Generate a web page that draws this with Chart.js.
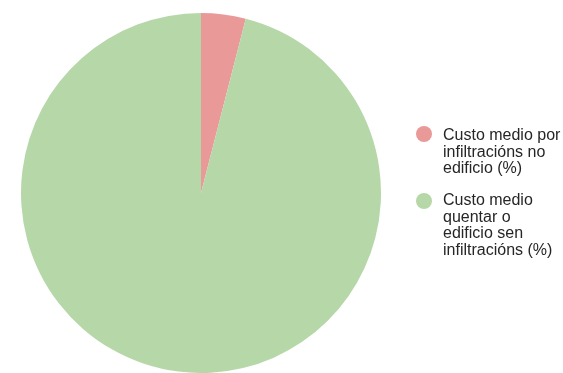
<!DOCTYPE html>
<html>
<head>
<meta charset="utf-8">
<script src="https://cdn.jsdelivr.net/npm/chart.js@4/dist/chart.umd.min.js"></script>
<style>
  html, body { margin: 0; padding: 0; background: #fff; overflow: hidden; }
  #wrap { position: relative; width: 563px; height: 373px; }
  #c { position: absolute; left: 0; top: 0; }
  .lg { position: absolute; left: 416px; font-family: "Liberation Sans", Arial, sans-serif; font-size: 16px; line-height: 16.6px; color: #262626; }
  .lg .dot { position: absolute; left: 0; width: 16px; height: 16px; border-radius: 50%; }
  .lg .txt { position: absolute; left: 27px; white-space: nowrap; }
</style>
</head>
<body>
<div id="wrap">
  <canvas id="c" width="563" height="373"></canvas>
</div>
<script>
const categories = [
  ["Custo medio por", "infiltracións no", "edificio (%)"],
  ["Custo medio", "quentar o", "edificio sen", "infiltracións (%)"]
];
const values = [4, 96];
const colors = ["#ea9999", "#b6d7a8"];

const ctx = document.getElementById('c').getContext('2d');
new Chart(ctx, {
  type: 'pie',
  data: {
    labels: categories.map(l => l.join(' ')),
    datasets: [{
      data: values,
      backgroundColor: colors,
      borderWidth: 0
    }]
  },
  options: {
    responsive: false,
    animation: false,
    layout: { padding: { left: 21, top: 13, right: 182, bottom: 0 } },
    plugins: {
      legend: { display: false },
      tooltip: { enabled: false }
    }
  }
});

// Legend (HTML text)
const wrap = document.getElementById('wrap');
const legendTops = [127, 192];
const dotOffsets = [-1, 1];
categories.forEach((lines, i) => {
  const d = document.createElement('div');
  d.className = 'lg';
  d.style.top = legendTops[i] + 'px';
  const dot = document.createElement('span');
  dot.className = 'dot';
  dot.style.background = colors[i];
  dot.style.top = dotOffsets[i] + 'px';
  d.appendChild(dot);
  const t = document.createElement('div');
  t.className = 'txt';
  t.innerHTML = lines.join('<br>');
  d.appendChild(t);
  wrap.appendChild(d);
});
</script>
</body>
</html>
